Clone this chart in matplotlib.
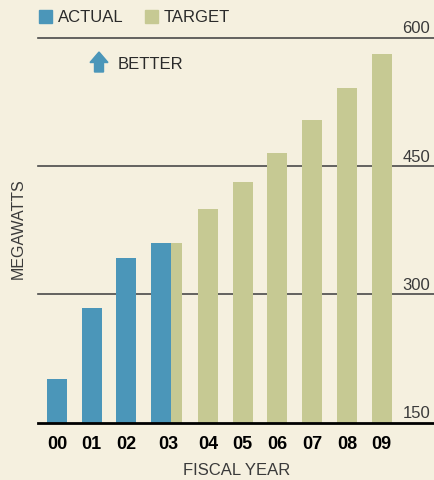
import numpy as np
import matplotlib
matplotlib.use('Agg')
import matplotlib.pyplot as plt
from matplotlib.patches import Rectangle, Polygon

plt.rcParams['font.family'] = ['Liberation Sans', 'DejaVu Sans']

# data (megawatts)
years = ['00', '01', '02', '03', '04', '05', '06', '07', '08', '09']
actual = [201, 284, 343, 360]
target = [360, 400, 432, 466, 504, 541, 581]
grid_vals = [150, 300, 450, 600]

bg = '#F5F0DF'
blue = '#4B96B9'
olive = '#C6C993'
W, H = 434, 481

fig = plt.figure(figsize=(W / 100, H / 100), dpi=100, facecolor=bg)
ax = fig.add_axes([38 / W, 1 - 423.7 / H, 396 / W, (423.7 - 39) / H])
ax.set_facecolor(bg)

# slot positions (03 is a double slot: actual + partial target)
x_act = np.array([0, 1, 2, 3])
x_tgt = np.array([4.35, 5.35, 6.35, 7.35, 8.35, 9.35])
bw = 0.577

ax.bar(x_act, actual, width=bw, color=blue, zorder=3)
# 03 target sliver next to the actual bar
ax.bar(3 + bw / 2, target[0], width=0.32, align='edge', color=olive, zorder=3)
ax.bar(x_tgt, target[1:], width=bw, color=olive, zorder=3)

ax.set_xlim(-0.548, 10.86)
ax.set_ylim(150, 600)

for v in grid_vals[1:]:
    ax.axhline(v, color='#4a4a4a', lw=1.2, zorder=1, clip_on=False)
ax.axhline(150, color='black', lw=2.0, zorder=4, clip_on=False)

for v in grid_vals:
    ax.text(0.99, v + 6.5, str(v), transform=ax.get_yaxis_transform(),
            ha='right', va='baseline', fontsize=12, color='#3a3a3a')

for s in ax.spines.values():
    s.set_visible(False)
ax.set_yticks([])
ticks = list(x_act[:3]) + [3.2] + list(x_tgt)
ax.set_xticks(ticks)
ax.set_xticklabels(years, fontsize=13, fontweight='bold', color='black')
ax.tick_params(axis='x', length=0, pad=8.5)

fig.text(236.5 / W, 1 - 471 / H, 'FISCAL YEAR', ha='center', va='center',
         fontsize=12, color='#3a3a3a')
fig.text(18 / W, 1 - 228.5 / H, 'MEGAWATTS', ha='center', va='center',
         rotation=90, fontsize=11.5, color='#3a3a3a')

# legend
fig.patches.append(Rectangle((39 / W, 1 - 24.3 / H), 12.7 / W, 13.3 / H,
                             transform=fig.transFigure, color=blue))
fig.text(58.3 / W, 1 - 18 / H, 'ACTUAL', ha='left', va='center', fontsize=12, color='#2a2a2a')
fig.patches.append(Rectangle((145 / W, 1 - 24.3 / H), 12.7 / W, 13.3 / H,
                             transform=fig.transFigure, color=olive))
fig.text(163.3 / W, 1 - 18 / H, 'TARGET', ha='left', va='center', fontsize=12, color='#2a2a2a')

# "better" arrow
pts = [(99, 53), (108, 63.5), (103.5, 63.5), (103.5, 73), (94.5, 73), (94.5, 63.5), (90, 63.5)]
fig.patches.append(Polygon([(px / W, 1 - py / H) for px, py in pts], closed=True,
                           transform=fig.transFigure, color=blue))
fig.text(118 / W, 1 - 65 / H, 'BETTER', ha='left', va='center', fontsize=12, color='#2a2a2a')

fig.savefig('out.png', dpi=100, facecolor=bg)
